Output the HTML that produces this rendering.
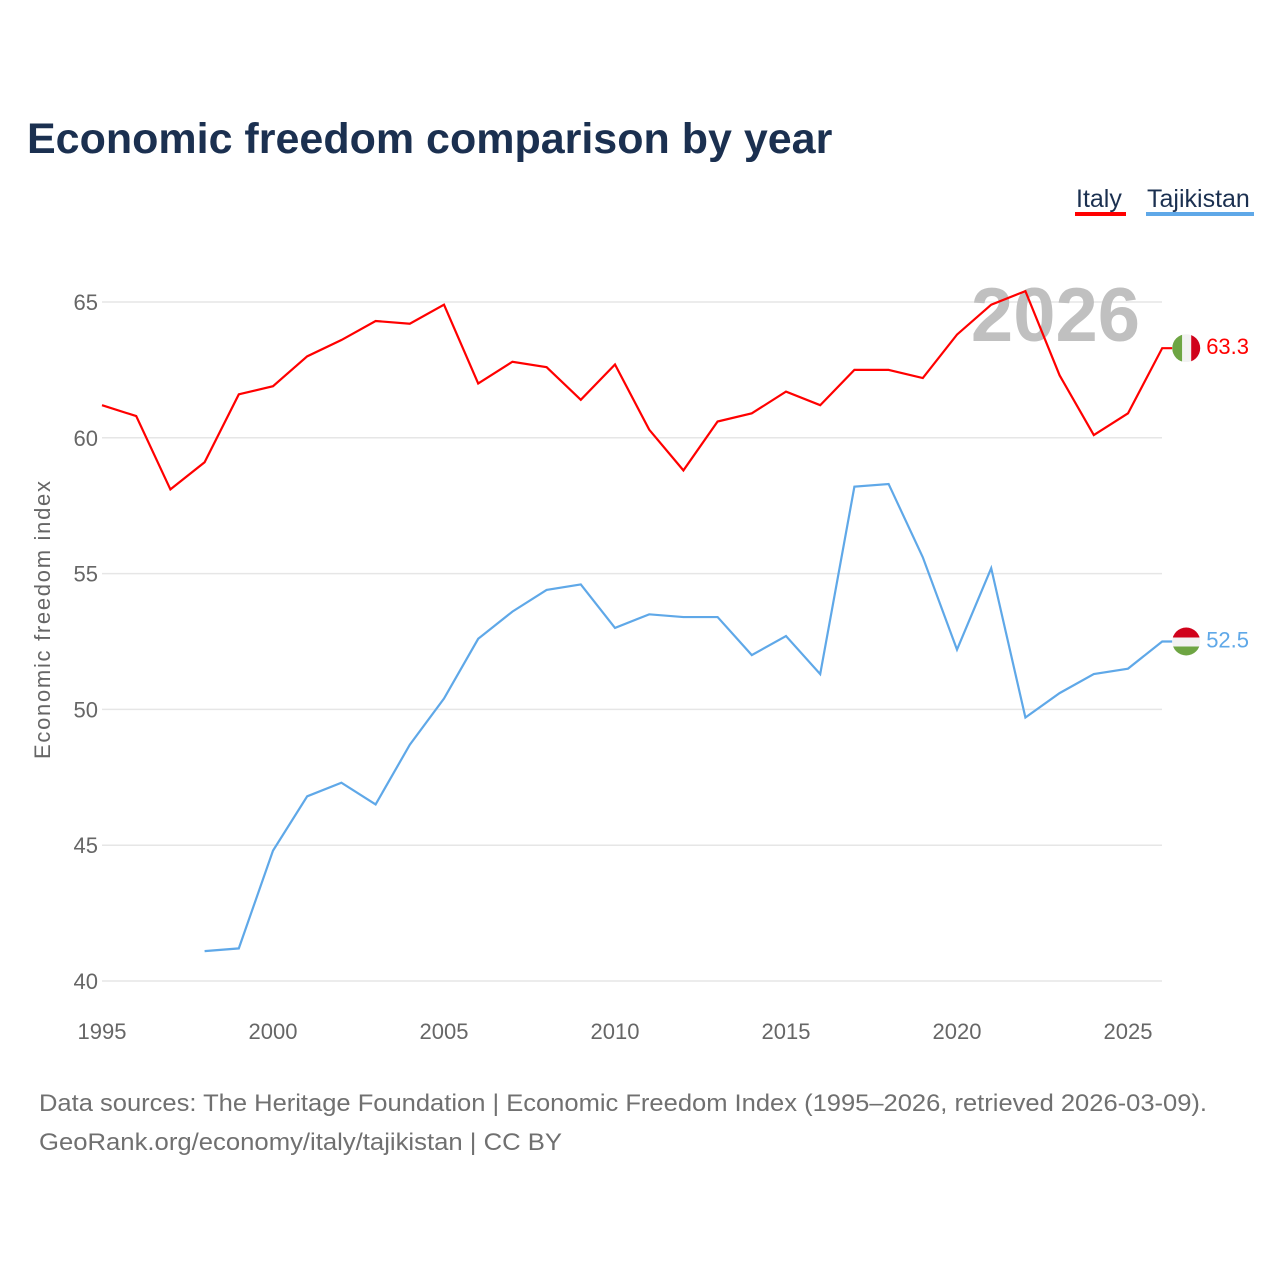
<!DOCTYPE html>
<html><head><meta charset="utf-8"><style>
body{margin:0;background:#fff;font-family:"Liberation Sans",sans-serif;}
svg text{font-family:"Liberation Sans",sans-serif;}
</style></head><body>
<svg width="1280" height="1280" xmlns="http://www.w3.org/2000/svg">
<text x="27" y="153" font-size="43" font-weight="bold" fill="#1b3050">Economic freedom comparison by year</text>
<g>
<text x="1076" y="207" font-size="25" fill="#1b3050">Italy</text>
<rect x="1075" y="212" width="51" height="4" fill="#ff0000"/>
<text x="1147" y="207" font-size="25" fill="#1b3050">Tajikistan</text>
<rect x="1146" y="212" width="108" height="4" fill="#5fa8e8"/>
</g>
<g id="grid"></g>
<text x="1140" y="341" font-size="76" font-weight="bold" fill="#c0c0c0" text-anchor="end">2026</text>
<g id="plot"></g>
<text transform="translate(50,620) rotate(-90)" font-size="22" fill="#666" text-anchor="middle" textLength="278">Economic freedom index</text>
<text x="39" y="1111" font-size="24" fill="#707070" textLength="1168" lengthAdjust="spacingAndGlyphs">Data sources: The Heritage Foundation | Economic Freedom Index (1995–2026, retrieved 2026-03-09).</text>
<text x="39" y="1150" font-size="24" fill="#707070" textLength="523" lengthAdjust="spacingAndGlyphs">GeoRank.org/economy/italy/tajikistan | CC BY</text>
</svg>
<script>
const years=[];for(let y=1995;y<=2026;y++)years.push(y);
const italy=[61.2,60.8,58.1,59.1,61.6,61.9,63.0,63.6,64.3,64.2,64.9,62.0,62.8,62.6,61.4,62.7,60.3,58.8,60.6,60.9,61.7,61.2,62.5,62.5,62.2,63.8,64.9,65.4,62.3,60.1,60.9,63.3];
const tajikistan=[null,null,null,41.1,41.2,44.8,46.8,47.3,46.5,48.7,50.4,52.6,53.6,54.4,54.6,53.0,53.5,53.4,53.4,52.0,52.7,51.3,58.2,58.3,55.6,52.2,55.2,49.7,50.6,51.3,51.5,52.5];
const yTicks=[40,45,50,55,60,65];
const xTicks=[1995,2000,2005,2010,2015,2020,2025];
const NS="http://www.w3.org/2000/svg";
const X=y=>102+(y-1995)*(1128-102)/30;
const Y=v=>981-(v-40)*(981-302)/25;
function mk(t,a,p){const e=document.createElementNS(NS,t);for(const k in a)e.setAttribute(k,a[k]);p.appendChild(e);return e;}
const grid=document.getElementById('grid'),plot=document.getElementById('plot');
yTicks.forEach(v=>{
 const l=mk('line',{x1:102,x2:1162,y1:Y(v),y2:Y(v),stroke:'#e6e6e6','stroke-width':1.5},grid);
 
 
 const t=mk('text',{x:98,y:Y(v)+8,'font-size':22,fill:'#666','text-anchor':'end'},grid);t.textContent=v;
 
 
});
xTicks.forEach(v=>{
 const t=mk('text',{x:X(v),y:1039,'font-size':22,fill:'#666','text-anchor':'middle'},grid);t.textContent=v;
 
 
});
function series(vals,color,name,flag){
 let d='',last=null;
 vals.forEach((v,i)=>{if(v==null)return;d+=(d?'L':'M')+X(years[i])+','+Y(v);last=[X(years[i]),Y(v),v];});
 d+='L'+(last[0]+10)+','+last[1];
 const p=mk('path',{d:d,fill:'none',stroke:color,'stroke-width':2.2},plot);
 
 
 const g=mk('g',{},plot);
 
 
 const cx=last[0]+24,cy=last[1];
 const cp=mk('clipPath',{id:'c'+name},g);mk('circle',{cx:cx,cy:cy,r:14},cp);
 const gg=mk('g',{'clip-path':'url(#c'+name+')'},g);
 if(flag==='it'){
  mk('rect',{x:cx-14,y:cy-14,width:10,height:28,fill:'#6ea543'},gg);
  mk('rect',{x:cx-4,y:cy-14,width:9,height:28,fill:'#f2f2f2'},gg);
  mk('rect',{x:cx+5,y:cy-14,width:10,height:28,fill:'#d0021b'},gg);
 }else{
  mk('rect',{x:cx-14,y:cy-14,width:28,height:10,fill:'#d0021b'},gg);
  mk('rect',{x:cx-14,y:cy-4,width:28,height:9,fill:'#f2f2f2'},gg);
  mk('rect',{x:cx-14,y:cy+5,width:28,height:10,fill:'#6ea543'},gg);
 }
 const t=mk('text',{x:cx+20,y:cy+6,'font-size':22,fill:color},plot);t.textContent=last[2].toFixed(1);
 
 
}
series(italy,'#ff0000','italy','it');
series(tajikistan,'#5fa8e8','tajikistan','tj');
</script>
</body></html>
